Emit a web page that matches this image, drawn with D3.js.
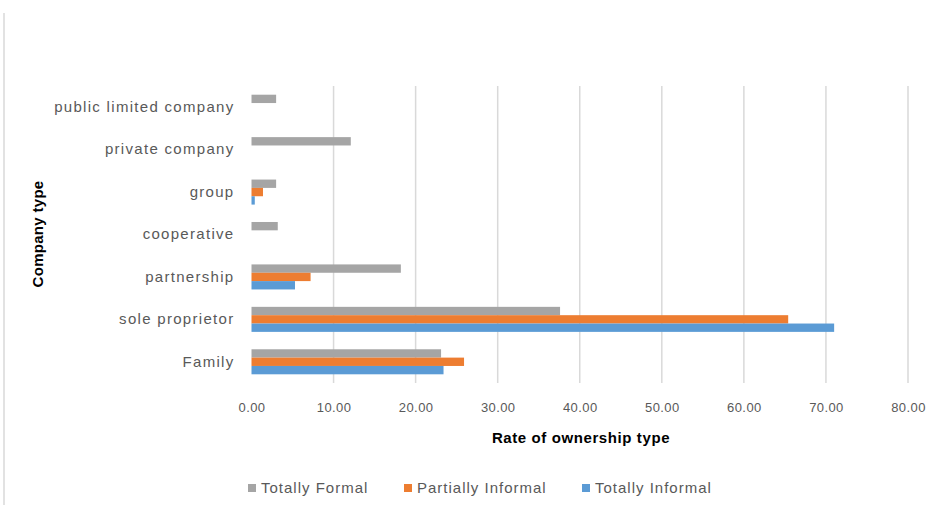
<!DOCTYPE html>
<html>
<head>
<meta charset="utf-8">
<script src="https://cdn.jsdelivr.net/npm/d3@7"></script>
<style>
body { margin: 0; background: #fff; }
svg { display: block; font-family: "Liberation Sans", Arial, sans-serif; }
</style>
</head>
<body>
<svg id="chart" width="948" height="505"></svg>
<script>
// data
var categories = ["Family", "sole proprietor", "partnership", "cooperative", "group", "private company", "public limited company"];
var seriesNames = ["Totally Formal", "Partially Informal", "Totally Informal"];
var totallyFormal = [23.1, 37.6, 18.2, 3.2, 3.0, 12.1, 3.0];
var partiallyInformal = [25.9, 65.4, 7.2, 0, 1.4, 0, 0];
var totallyInformal = [23.4, 71.0, 5.3, 0, 0.4, 0, 0];
var xTicks = [0, 10, 20, 30, 40, 50, 60, 70, 80];

var colors = ["#a5a5a5", "#ed7d31", "#5b9bd5"];
var textColor = "#595959";

var svg = d3.select("#chart");

var plotLeft = 251.5, plotRight = 908, plotTop = 86, plotBottom = 383;

var xScale = d3.scaleLinear().domain([0, 80]).range([plotLeft, plotRight]);

// first category at the bottom
var yScale = d3.scaleBand()
	.domain(categories.slice().reverse())
	.range([plotTop, plotBottom])
	.paddingInner(0.41)
	.paddingOuter(0.205);

var inner = d3.scaleBand().domain(seriesNames).range([0, yScale.bandwidth()]);

// frame line on the left
svg.append("line")
	.attr("x1", 4).attr("x2", 4)
	.attr("y1", 13).attr("y2", 505)
	.attr("stroke", "#d9d9d9")
	.attr("stroke-width", 1.5);

// gridlines
svg.append("g").selectAll("line").data(xTicks.filter(function(d) { return d > 0; })).enter()
	.append("line")
	.attr("x1", function(d) { return xScale(d); })
	.attr("x2", function(d) { return xScale(d); })
	.attr("y1", plotTop)
	.attr("y2", plotBottom)
	.attr("stroke", "#d9d9d9")
	.attr("stroke-width", 1.5);

// x axis labels
var xAxis = d3.axisBottom(xScale).tickValues(xTicks).tickSize(0).tickPadding(0)
	.tickFormat(d3.format(".2f"));
var gx = svg.append("g")
	.attr("transform", "translate(0," + (plotBottom + 29) + ")")
	.call(xAxis);
gx.select(".domain").remove();
gx.selectAll("text")
	.attr("dy", 0)
	.attr("fill", textColor)
	.style("font-size", "13px")
	.style("letter-spacing", "0.4px");

// y axis labels
var yAxis = d3.axisLeft(yScale).tickSize(0).tickPadding(17);
var gy = svg.append("g")
	.attr("transform", "translate(" + plotLeft + ",0)")
	.call(yAxis);
gy.select(".domain").remove();
gy.selectAll("text")
	.attr("fill", textColor)
	.style("font-size", "15px")
	.style("letter-spacing", "1.3px");

// bars, one group per series
var seriesValues = [totallyFormal, partiallyInformal, totallyInformal];
seriesNames.forEach(function(name, si) {
	var rows = categories.map(function(c, i) { return { cat: c, v: seriesValues[si][i] }; })
		.filter(function(d) { return d.v > 0; });
	svg.append("g").selectAll("rect").data(rows).enter()
		.append("rect")
		.attr("x", xScale(0))
		.attr("y", function(d) { return yScale(d.cat) + inner(name); })
		.attr("width", function(d) { return xScale(d.v) - xScale(0); })
		.attr("height", inner.bandwidth())
		.attr("fill", colors[si]);
});

// axis titles
svg.append("text")
	.attr("x", 581)
	.attr("y", 443)
	.attr("text-anchor", "middle")
	.attr("fill", "#000")
	.style("font-size", "15px")
	.style("font-weight", "bold")
	.style("letter-spacing", "0.6px")
	.text("Rate of ownership type");

svg.append("text")
	.attr("transform", "translate(43,234) rotate(-90)")
	.attr("text-anchor", "middle")
	.attr("fill", "#000")
	.style("font-size", "15px")
	.style("font-weight", "bold")
	.style("letter-spacing", "0.3px")
	.text("Company type");

// legend
var legendX = [248, 404, 582];
var legend = svg.append("g").selectAll("g").data(seriesNames).enter()
	.append("g")
	.attr("transform", function(d, i) { return "translate(" + legendX[i] + ",488)"; });
legend.append("rect")
	.attr("x", 0).attr("y", -4)
	.attr("width", 8).attr("height", 8)
	.attr("fill", function(d, i) { return colors[i]; });
legend.append("text")
	.attr("x", 13)
	.attr("y", 5)
	.attr("fill", textColor)
	.style("font-size", "15px")
	.style("letter-spacing", "1px")
	.text(function(d) { return d; });
</script>
</body>
</html>
